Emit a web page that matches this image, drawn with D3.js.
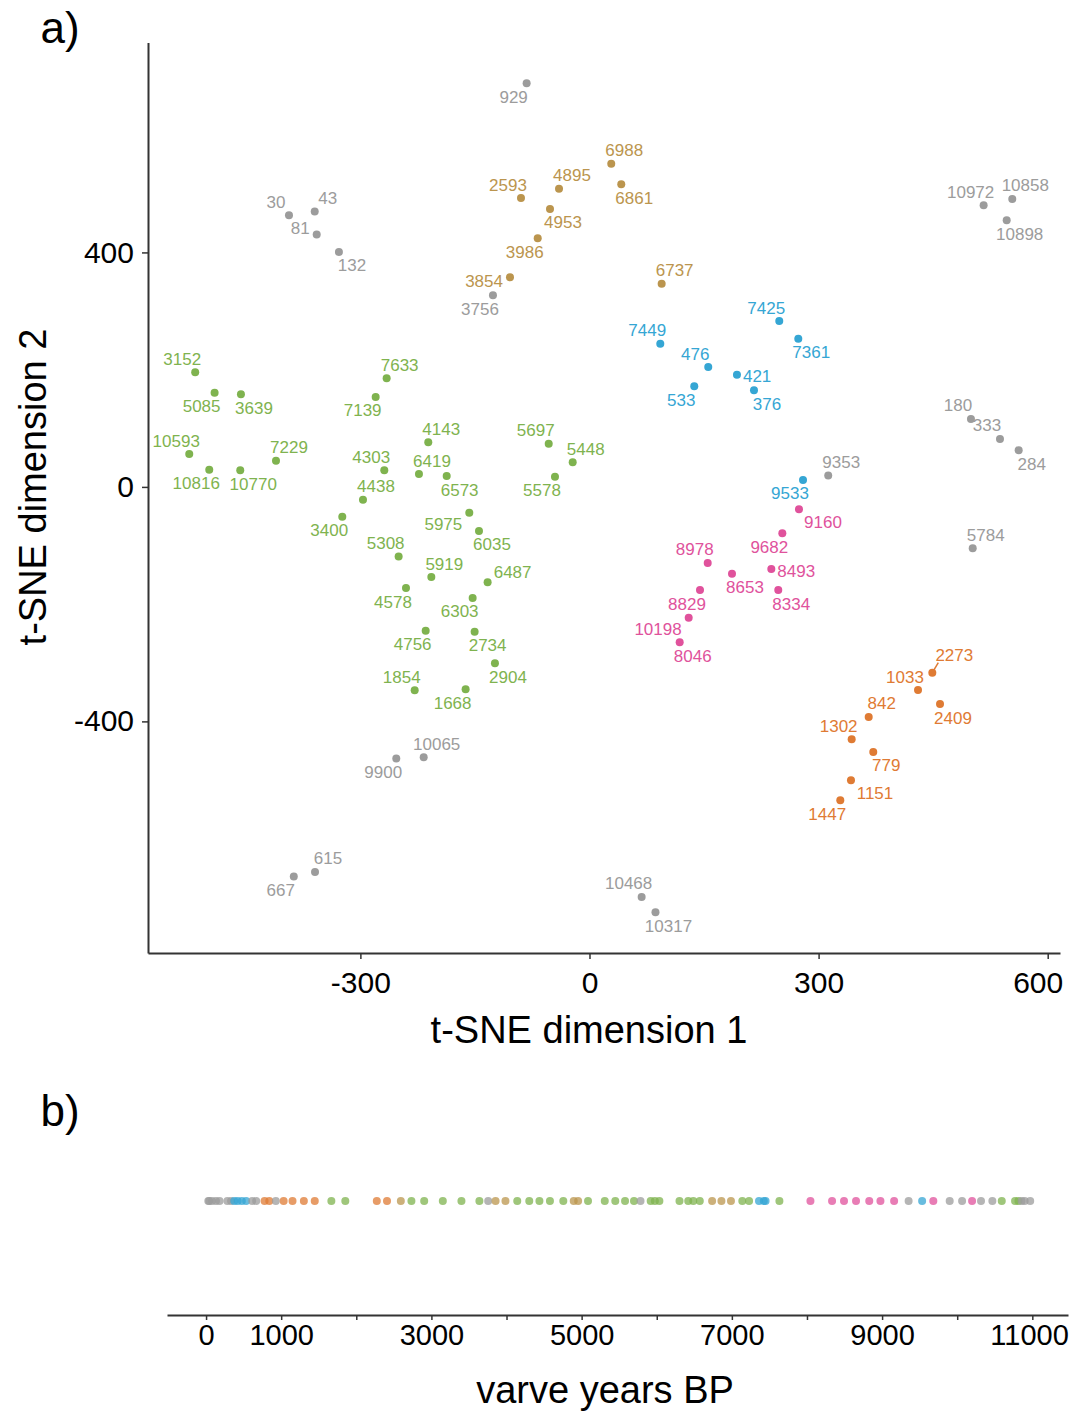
<!DOCTYPE html>
<html><head><meta charset="utf-8">
<script src="https://cdn.jsdelivr.net/npm/d3@7"></script>
<style>
body{margin:0;background:#fff}
svg{display:block}
text{font-family:"Liberation Sans",Arial,sans-serif}
</style>
</head><body>
<svg id="c" width="1071" height="1411"></svg>
<script>
// ---- data (years BP label, t-SNE dim 1, t-SNE dim 2, cluster) ----
const years = [
  929,30,43,81,132,3756,10972,10858,10898,180,333,284,9353,5784,10065,9900,615,667,10468,10317,
  2593,4895,4953,3986,3854,6988,6861,6737,
  7425,7449,7361,476,421,533,376,9533,
  9160,9682,8978,8653,8493,8334,8829,10198,8046,
  2273,1033,2409,842,1302,779,1151,1447,
  3152,5085,3639,7633,7139,10593,10816,10770,7229,4143,4303,6419,6573,4438,5697,5448,5578,
  3400,5975,6035,5308,5919,6487,4578,6303,4756,2734,2904,1854,1668
];
const dim1 = [
  -82.3,-393.5,-359.8,-357.2,-328.1,-126.4,516.1,553.6,546.3,499.5,537.5,562.0,312.6,501.8,-217.1,-253.0,-359.4,-387.2,68.3,86.4,
  -89.7,-39.9,-51.7,-67.8,-104.1,28.5,41.6,94.5,
  248.5,92.7,273.4,155.5,193.1,137.2,215.4,279.6,
  274.3,252.5,154.8,186.6,238.1,247.2,144.7,129.9,118.1,
  448.9,430.2,459.0,365.6,343.3,371.6,342.4,328.4,
  -516.3,-490.9,-456.4,-265.6,-280.0,-524.1,-497.9,-457.3,-410.5,-211.1,-268.7,-223.3,-187.0,-296.6,-53.4,-22.0,-45.2,
  -323.7,-157.4,-144.7,-249.9,-207.1,-133.4,-240.3,-153.0,-214.5,-150.4,-123.8,-228.9,-162.2
];
const dim2 = [
  688.5,463.5,469.6,430.4,400.9,327.0,480.5,491.3,455.0,116.0,81.9,62.6,19.3,-104.6,-461.1,-463.5,-656.8,-664.8,-699.4,-725.5,
  492.8,508.7,474.1,424.1,357.6,551.4,516.2,346.6,
  283.0,244.3,252.8,204.5,191.4,171.6,164.8,11.8,
  -38.2,-79.2,-129.8,-148.1,-140.1,-175.9,-175.9,-223.1,-265.1,
  -317.0,-346.5,-370.4,-392.5,-430.6,-452.2,-500.5,-534.6,
  195.5,160.7,158.0,185.3,153.4,56.1,29.3,28.3,44.7,76.1,28.3,22.0,18.6,-21.8,73.7,42.0,17.4,
  -50.8,-44.0,-75.2,-118.7,-153.7,-162.7,-172.5,-189.5,-245.3,-247.0,-300.9,-347.0,-345.3
];
const cluster = [
  ...Array(20).fill("grey"),
  ...Array(8).fill("tan"),
  ...Array(8).fill("blue"),
  ...Array(9).fill("pink"),
  ...Array(8).fill("orange"),
  ...Array(30).fill("green")
];
// label placement relative to its point (compass code)
const labelSide = [
  "sw","nw","ne","wnw","se","sw","nw","ne","se","nw","nw","se","ne","ne","ne","sw","ne","sw","nw","se",
  "nw","ne","se","sw","w","ne","se","ne",
  "nw","nw","se","nw","e","sw","se","sw",
  "ese","sw","nw","se","e","se","sw","wsw","se",
  "nel","nw","se","ne","nw","se","ese","sw",
  "nw","sw","se","ne","sw","nw","sw","se","ne","ne","nw","ne","se","ne","nw","ne","sw",
  "sw","wsw","se","nw","ne","ene","sw","sw","sw","se","se","nw","sw"
];
const xTicksA = [-300, 0, 300, 600];
const yTicksA = [-400, 0, 400];
const xTicksB = [0,1000,2000,3000,4000,5000,6000,7000,8000,9000,10000,11000];
const xTickLabelsB = [0,1000,3000,5000,7000,9000,11000];

// ---- styles ----
const colors = {grey:"#9c9c9c", tan:"#bb954e", blue:"#35a6d4", pink:"#e0529c", orange:"#df7b34", green:"#7fb34f"};
const offsets = {
  ne:[13,-13,"middle"], nw:[-13,-13,"middle"], se:[13,14,"middle"], sw:[-13,14,"middle"],
  e:[6,2,"start"], w:[-7,4,"end"], wnw:[-7,-6,"end"], ese:[24,13,"middle"],
  wsw:[-7,12,"end"], ene:[25,-10,"middle"], nel:[22,-17,"middle"]
};

const svg = d3.select("#c");
const data = years.map((yr,i)=>({yr, d1:dim1[i], d2:dim2[i], c:cluster[i], s:labelSide[i]}));

// ---- panel a ----
const x = d3.scaleLinear().domain([-578.1, 616.1]).range([148, 1060]);
const y = d3.scaleLinear().domain([-795.1, 758.1]).range([953, 42.5]);

const gx = svg.append("g").attr("transform","translate(0,953)")
  .call(d3.axisBottom(x).tickValues(xTicksA).tickSize(6).tickSizeOuter(0).tickPadding(13).tickFormat(d=>String(d)));
const gy = svg.append("g").attr("transform","translate(148,0)")
  .call(d3.axisLeft(y).tickValues(yTicksA).tickSize(6).tickSizeOuter(0).tickPadding(8).tickFormat(d=>String(d)));
[gx,gy].forEach(g=>{
  g.select(".domain").attr("stroke","#333").attr("stroke-width",2);
  g.selectAll(".tick line").attr("stroke","#333").attr("stroke-width",1.5);
  g.selectAll(".tick text").attr("fill","#000").style("font-size","30px").style("font-family","'Liberation Sans',Arial,sans-serif");
});
// keep the last x label inside the picture, as in the reference
gx.selectAll(".tick").filter(d=>d===600).select("text").attr("text-anchor","end").attr("x",15);

svg.append("text").attr("x",589).attr("y",1030).attr("text-anchor","middle").attr("dominant-baseline","central")
  .style("font-size","38px").attr("fill","#000").text("t-SNE dimension 1");
svg.append("text").attr("transform","translate(33,487) rotate(-90)").attr("text-anchor","middle").attr("dominant-baseline","central")
  .style("font-size","38px").attr("fill","#000").text("t-SNE dimension 2");
svg.append("text").attr("x",60).attr("y",27).attr("text-anchor","middle").attr("dominant-baseline","central")
  .style("font-size","44px").attr("fill","#000").text("a)");
svg.append("text").attr("x",60).attr("y",1110).attr("text-anchor","middle").attr("dominant-baseline","central")
  .style("font-size","44px").attr("fill","#000").text("b)");

const pa = svg.append("g");
pa.selectAll("line.lead").data(data.filter(d=>d.s==="nel")).join("line").attr("class","lead")
  .attr("x1",d=>x(d.d1)).attr("y1",d=>y(d.d2)).attr("x2",d=>x(d.d1)+6).attr("y2",d=>y(d.d2)-10)
  .attr("stroke",d=>colors[d.c]).attr("stroke-width",1.5);
pa.selectAll("circle").data(data).join("circle")
  .attr("cx",d=>x(d.d1)).attr("cy",d=>y(d.d2)).attr("r",4).attr("fill",d=>colors[d.c]);
pa.selectAll("text").data(data).join("text")
  .attr("x",d=>x(d.d1)+offsets[d.s][0]).attr("y",d=>y(d.d2)+offsets[d.s][1])
  .attr("text-anchor",d=>offsets[d.s][2]).attr("dominant-baseline","central")
  .style("font-size","17px").attr("fill",d=>colors[d.c]).text(d=>d.yr);

// ---- panel b ----
const xb = d3.scaleLinear().domain([-520, 11475]).range([167, 1068]);
const gb = svg.append("g").attr("transform","translate(0,1315)")
  .call(d3.axisBottom(xb).tickValues(xTicksB).tickSize(5).tickSizeOuter(0).tickPadding(4)
    .tickFormat(d=>xTickLabelsB.includes(d)?String(d):""));
gb.select(".domain").attr("stroke","#333").attr("stroke-width",2);
gb.selectAll(".tick line").attr("stroke","#333").attr("stroke-width",1.5);
gb.selectAll(".tick text").attr("fill","#000").style("font-size","29px").style("font-family","'Liberation Sans',Arial,sans-serif");
gb.selectAll(".tick").filter(d=>d===11000).select("text").attr("text-anchor","end").attr("x",36);
svg.append("text").attr("x",605).attr("y",1390).attr("text-anchor","middle").attr("dominant-baseline","central")
  .style("font-size","38px").attr("fill","#000").text("varve years BP");

svg.append("g").selectAll("circle").data(data.slice().sort((a,b)=>a.yr-b.yr)).join("circle")
  .attr("cx",d=>xb(d.yr)).attr("cy",1201).attr("r",4).attr("fill",d=>colors[d.c]).attr("fill-opacity",0.75);
</script>
</body></html>
